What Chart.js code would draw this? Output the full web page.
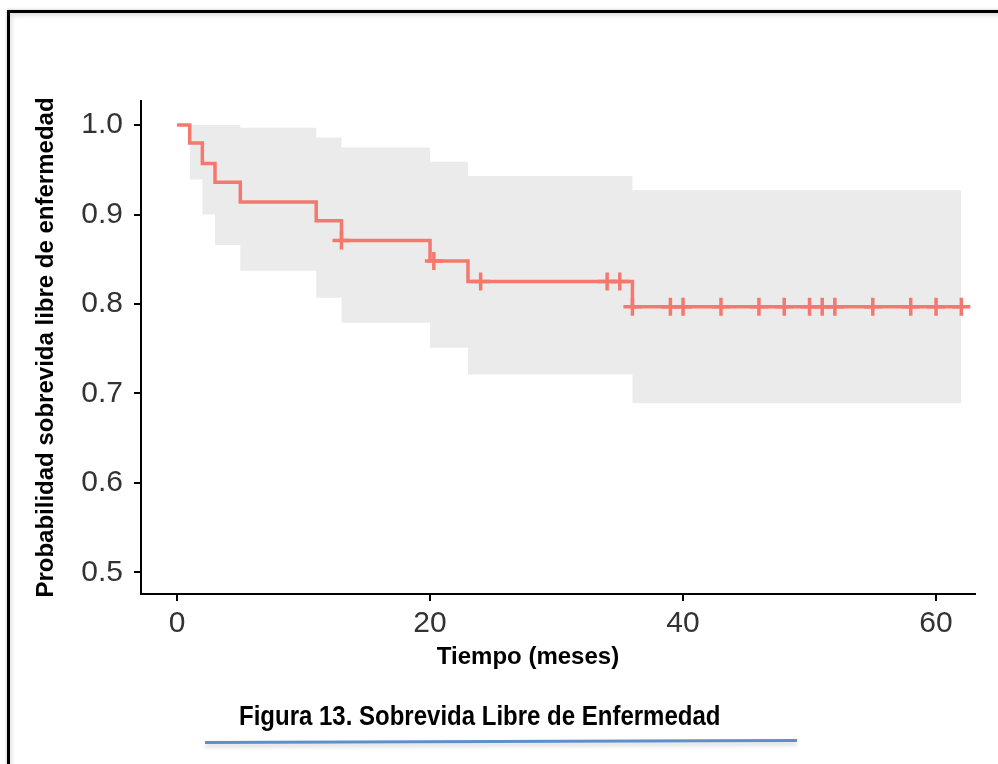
<!DOCTYPE html>
<html>
<head>
<meta charset="utf-8">
<script src="https://cdn.jsdelivr.net/npm/chart.js@4.4.1/dist/chart.umd.min.js"></script>
<style>
  html, body { margin: 0; padding: 0; background: #fff; }
  body { width: 998px; height: 764px; position: relative; overflow: hidden; font-family: 'Liberation Sans', Arial, sans-serif; }
  #frame {
    position: absolute; left: 7px; top: 10px; width: 1100px; height: 900px;
    border: 3px solid #000; box-sizing: border-box;
    box-shadow: inset 2px 3px 4px rgba(0,0,0,0.12), 0 0 3px rgba(0,0,0,0.25);
  }
  #chart { position: absolute; left: 0; top: 0; }
  #xtitle {
    position: absolute; left: 428px; top: 642px; width: 200px; text-align: center;
    font-weight: bold; font-size: 24px; color: #000; white-space: nowrap;
  }
  #caption {
    position: absolute; left: 239px; top: 699px; font-weight: bold; font-size: 24px;
    color: #000; white-space: nowrap; transform: scaleY(1.17); transform-origin: left top;
  }
  #rule {
    position: absolute; left: 205px; top: 740px; width: 592px; height: 3px;
    background: #5E8FCB; transform: rotate(-0.2deg);
    box-shadow: 0 3px 4px rgba(0,0,0,0.18);
  }
</style>
</head>
<body>
<div id="frame"></div>
<canvas id="chart" width="998" height="700"></canvas>
<div id="xtitle">Tiempo (meses)</div>
<div id="caption">Figura 13. Sobrevida Libre de Enfermedad</div>
<div id="rule"></div>

<script>
// Kaplan-Meier curve (event times, survival after each step)
const stepTimes = [0, 1, 2, 3, 5, 11, 13, 20, 23, 36, 62];
const stepSurv  = [1.0, 0.980, 0.957, 0.936, 0.914, 0.893, 0.871, 0.848, 0.825, 0.797, 0.797];

// confidence band
const bandTimes = [1, 2, 3, 5, 11, 13, 20, 23, 36, 62];
const bandUpper = [1.0, 1.0, 1.0, 0.997, 0.986, 0.975, 0.959, 0.943, 0.927, 0.927];
const bandLower = [0.939, 0.900, 0.866, 0.837, 0.807, 0.779, 0.751, 0.721, 0.689, 0.689];

// censored observations
const censorTimes = [13, 20.3, 24, 34, 35, 36, 39, 40, 43, 46, 48, 50, 51, 52, 55, 58, 60, 62];
const censorSurv  = [0.871, 0.848, 0.825, 0.825, 0.825, 0.797, 0.797, 0.797, 0.797, 0.797,
                     0.797, 0.797, 0.797, 0.797, 0.797, 0.797, 0.797, 0.797];

// axes
const xTicks = [0, 20, 40, 60];
const yTicks = [0.5, 0.6, 0.7, 0.8, 0.9, 1.0];

const salmon = '#F4786E';
const band = '#EBEBEB';
const tickText = '#333333';

const toXY = (xs, ys) => xs.map((x, i) => ({ x: x, y: ys[i] }));

new Chart(document.getElementById('chart'), {
  type: 'line',
  data: {
    datasets: [
      {
        label: 'lower',
        data: toXY(bandTimes, bandLower),
        stepped: true,
        borderWidth: 0,
        pointRadius: 0,
        fill: false,
        order: 5
      },
      {
        label: 'upper',
        data: toXY(bandTimes, bandUpper),
        stepped: true,
        borderWidth: 0,
        pointRadius: 0,
        backgroundColor: band,
        fill: '-1',
        order: 4
      },
      {
        label: 'surv',
        data: toXY(stepTimes, stepSurv),
        stepped: true,
        borderColor: salmon,
        borderWidth: 3.5,
        pointRadius: 0,
        fill: false,
        order: 2
      },
      {
        label: 'censor',
        data: toXY(censorTimes, censorSurv),
        showLine: false,
        pointStyle: 'cross',
        pointRadius: 9,
        pointBorderWidth: 3.5,
        pointBorderColor: salmon,
        order: 1
      }
    ]
  },
  options: {
    responsive: false,
    animation: false,
    layout: { padding: { left: 32, right: 23, top: 101, bottom: 56 } },
    plugins: { legend: { display: false }, tooltip: { enabled: false } },
    scales: {
      x: {
        type: 'linear',
        min: -2.85,
        max: 63.08,
        afterBuildTicks: s => { s.ticks = xTicks.map(v => ({ value: v })); },
        afterFit: s => { s.height = 50; },
        grid: { drawOnChartArea: false, drawTicks: true, tickLength: 7, color: '#000', lineWidth: 2 },
        border: { display: true, color: '#000', width: 2 },
        ticks: {
          padding: 5,
          color: tickText,
          font: { family: "'Liberation Sans', Arial, sans-serif", size: 30 },
          maxRotation: 0
        }
      },
      y: {
        type: 'linear',
        min: 0.4757,
        max: 1.0269,
        afterBuildTicks: s => { s.ticks = yTicks.map(v => ({ value: v })); },
        afterFit: s => { s.width = 141 - 32; },
        grid: { drawOnChartArea: false, drawTicks: true, tickLength: 7, color: '#000', lineWidth: 2 },
        border: { display: true, color: '#000', width: 2 },
        title: {
          display: true,
          text: 'Probabilidad sobrevida libre de enfermedad',
          color: '#000',
          padding: 0,
          font: { family: "'Liberation Sans', Arial, sans-serif", size: 24, weight: 'bold' }
        },
        ticks: {
          padding: 11,
          color: tickText,
          font: { family: "'Liberation Sans', Arial, sans-serif", size: 30 },
          callback: v => v.toFixed(1)
        }
      }
    }
  }
});
</script>
</body>
</html>
